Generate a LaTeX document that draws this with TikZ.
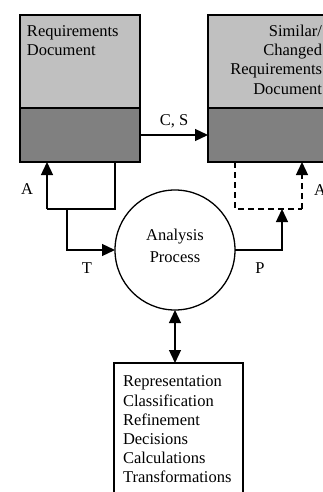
\documentclass[tikz,border=0pt]{standalone}
\usepackage{fontspec}
\setmainfont{Liberation Serif}
\usetikzlibrary{arrows.meta}
\definecolor{docLight}{HTML}{C0C0C0}
\definecolor{docDark}{HTML}{808080}
\begin{document}
\begin{tikzpicture}[x=1pt,y=-1pt,
  font=\fontsize{16.5}{19.2}\selectfont,
  every node/.style={inner sep=0pt, outer sep=0pt},
  line width=1.3pt,
  docupper/.style={draw, fill=docLight, minimum width=120pt, minimum height=93pt},
  doclower/.style={draw, fill=docDark, minimum width=120pt, minimum height=54pt},
  process/.style={draw, circle, minimum size=120pt},
  listbox/.style={draw, minimum width=129pt, minimum height=150pt},
  arr/.style={-{Triangle[length=13pt,width=12pt]}},
  darr/.style={{Triangle[length=13pt,width=12pt]}-{Triangle[length=13pt,width=12pt]}},
  flowdash/.style={dash pattern=on 6pt off 4pt},
  lbl/.style={font=\fontsize{16.5}{19.2}\selectfont}
]
\useasboundingbox (0,0) rectangle (323,492);

% source document
\node[docupper] (requp)  at (80,61.5) {};
\node[doclower] (reqlow) at (80,135) {};
\node[anchor=north west, align=left] (reqtext) at (27,25.5) {Requirements\\Document};

% target document
\node[docupper] (simup)  at (268,61.5) {};
\node[doclower] (simlow) at (268,135) {};
\node[anchor=north east, align=right] (simtext) at (322,25)
  {Similar/\\Changed\\Requirements\\Document};

% process
\node[process] (proc) at (175,250) {};
\node[align=center, font=\fontsize{16.5}{21.5}\selectfont] (proctext) at (175,246)
  {Analysis\\Process};

% list of activities
\node[listbox, anchor=north west] (list) at (114,363) {};
\node[anchor=north west, align=left] (listtext) at (123,376)
  {Representation\\Classification\\Refinement\\Decisions\\Calculations\\Transformations};

% routing points
\coordinate (lA) at (47,209);
\coordinate (lR) at (115,209);
\coordinate (lT) at (67,209);
\coordinate (rL) at (235,209);
\coordinate (rA) at (302,209);
\coordinate (rP) at (282,209);

% connectors
\draw[arr] (reqlow.east) -- (simlow.west);
\draw (reqlow.south -| lR) -- (lR) -- (lA);
\draw[arr] (lA) -- (reqlow.south -| lA);
\draw[arr] (lT) |- (proc.west);
\draw[flowdash] (simlow.south -| rL) -- (rL) -- (rA);
\draw[arr, flowdash] (rA) -- (simlow.south -| rA);
\draw[arr] (proc.east) -| (rP);
\draw[darr] (proc.south) -- (proc.south |- list.north);

% labels
\node[lbl] (lblCS) at (174,121) {C, S};
\node[lbl] (lblAl) at (27,189) {A};
\node[lbl] (lblAr) at (320,190) {A};
\node[lbl] (lblT) at (87,268) {T};
\node[lbl] (lblP) at (260,268) {P};
\end{tikzpicture}
\end{document}
